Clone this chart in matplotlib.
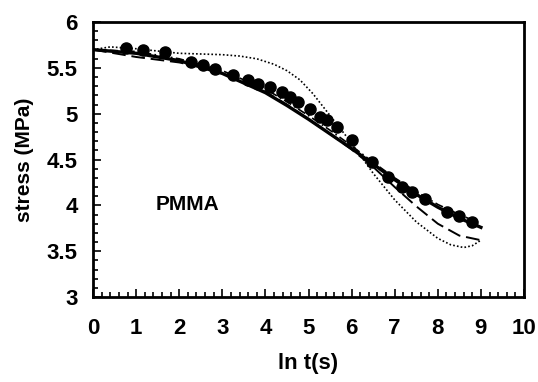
import matplotlib
matplotlib.use("Agg")
import matplotlib.pyplot as plt
from matplotlib.ticker import MultipleLocator

plt.rcParams["font.family"] = ["Liberation Sans", "DejaVu Sans"]
plt.rcParams["font.weight"] = "bold"

# ── Data ──────────────────────────────────────────────────────────────────────
exp_x = [0.76, 1.15, 1.68, 2.27, 2.55, 2.83, 3.25, 3.60, 3.83, 4.10, 4.38,
         4.57, 4.76, 5.03, 5.27, 5.43, 5.66, 6.00, 6.47, 6.84, 7.17, 7.40,
         7.70, 8.21, 8.50, 8.79]
exp_y = [5.72, 5.70, 5.67, 5.56, 5.53, 5.49, 5.42, 5.37, 5.33, 5.29, 5.24,
         5.18, 5.13, 5.05, 4.97, 4.93, 4.86, 4.71, 4.47, 4.31, 4.20, 4.15,
         4.07, 3.93, 3.88, 3.82]

fit_x = [0, 1, 2, 3, 4, 4.5, 5, 5.5, 6, 6.5, 7, 7.5, 8, 8.5, 9]
solid_y = [5.70, 5.66, 5.58, 5.44, 5.23, 5.09, 4.94, 4.78, 4.62, 4.45, 4.28, 4.12, 3.98, 3.86, 3.76]
dashed_y = [5.70, 5.62, 5.56, 5.46, 5.24, 5.10, 4.94, 4.78, 4.61, 4.42, 4.20, 3.99, 3.80, 3.67, 3.62]
dashdot_y = [5.70, 5.68, 5.60, 5.47, 5.27, 5.13, 4.98, 4.82, 4.65, 4.47, 4.30, 4.15, 4.01, 3.90, 3.80]

dot_x = [0, 0.4, 1, 2, 3, 3.4, 3.8, 4.2, 4.5, 4.8, 5.1, 5.5, 6, 6.5,
         7, 7.5, 8, 8.3, 8.6, 8.8, 9]
dot_y = [5.70, 5.73, 5.71, 5.66, 5.645, 5.63, 5.60, 5.54, 5.47, 5.37, 5.22,
         4.98, 4.68, 4.35, 4.06, 3.82, 3.64, 3.57, 3.54, 3.56, 3.62]

fig = plt.figure(figsize=(5.38, 3.82), dpi=100)
ax = fig.add_axes([0.173, 0.2225, 0.801, 0.7195])

ax.plot(fit_x, solid_y, "-", color="black", lw=2.4, zorder=3)
ax.plot(fit_x, dashed_y, color="black", lw=1.4, dashes=(7, 3), zorder=3)
ax.plot(fit_x, dashdot_y, color="black", lw=1.2, dashes=(5, 2, 1, 2), zorder=3)
ax.plot(dot_x, dot_y, color="black", lw=1.2, dashes=(1, 1.3), zorder=3)
ax.plot(exp_x, exp_y, "o", color="black", ms=8, zorder=5)

ax.text(1.45, 3.95, "PMMA", fontsize=15, fontweight="bold")

ax.set_xlim(0, 10)
ax.set_ylim(3, 6)
ax.xaxis.set_major_locator(MultipleLocator(1))
ax.xaxis.set_minor_locator(MultipleLocator(0.2))
ax.yaxis.set_major_locator(MultipleLocator(0.5))
ax.yaxis.set_minor_locator(MultipleLocator(0.1))
ax.yaxis.set_major_formatter(plt.FuncFormatter(lambda v, p: f"{v:g}"))

ax.tick_params(which="both", direction="in", top=False, right=False,
               width=1.2, labelsize=16)
ax.tick_params(which="major", length=6)
ax.tick_params(which="minor", length=3.5)
ax.tick_params(axis="x", which="major", pad=15)
ax.tick_params(axis="y", which="major", pad=11)
for sp in ax.spines.values():
    sp.set_linewidth(2)

ax.set_xlabel("ln t(s)", fontsize=16, fontweight="bold", labelpad=10)
ax.set_ylabel("stress (MPa)", fontsize=15, fontweight="bold", labelpad=9)

fig.savefig("out.png", dpi=100)
